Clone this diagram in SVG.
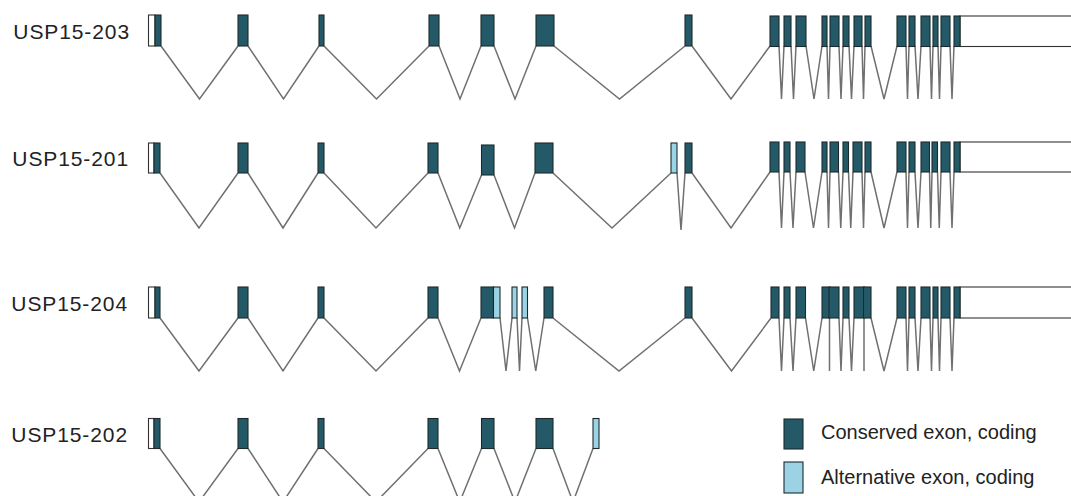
<svg xmlns="http://www.w3.org/2000/svg" width="1071" height="496" viewBox="0 0 1071 496">
  <style>
    .label { font-family: "Liberation Sans", Arial, sans-serif; font-size: 21px; letter-spacing: 0.9px; fill: #222; }
    .legend { font-family: "Liberation Sans", Arial, sans-serif; font-size: 20px; fill: #222; }
    .ex { fill: #245a68; stroke: #1c2a2e; stroke-width: 1.1; }
    .alt { fill: #9cd3e4; stroke: #1c2a2e; stroke-width: 1.1; }
    .utr { fill: #ffffff; stroke: #333333; stroke-width: 1.1; }
    .intron { fill: none; stroke: #707070; stroke-width: 1.5; stroke-linejoin: miter; }
  </style>
  <rect width="1071" height="496" fill="#ffffff"/>

  <!-- intron connectors (drawn under the exons) -->
  <g id="connectors">
    <path class="intron" d="M161 46L199.5 99L238 46M248 46L283.5 99L319 46M324 46L376.5 99L429 46M439 46L460 99L481 46M494 46L515 99L536 46M554 46L619.5 99L685 46M692 46L731 99L770 46M779 46L781.5 99L784 46M791 46L793.5 99L796 46M806 46L814 99L822 46M827 46L828.5 99L830 46M839 46L841 99L843 46M849 46L851.5 99L854 46M862 46L863.5 99L865 46M871 46L884 99L897 46M906 46L907.5 99L909 46M915 46L918 99L921 46M930 46L931.5 99L933 46M938 46L939.5 99L941 46M950 46L952 99L954 46"/>
    <path class="intron" d="M160 173L199 228L238 173M248 173L283 228L318 173M324 173L376 228L428 173M438 173L459.75 228L481.5 175M494 175L514.5 228L535 173M553 173L612 228L671 173M677 173L681 230L685 173M692 173L731 228L770 172M779 172L781.5 228L784 172M790 172L793 228L796 172M805 172L813.5 228L822 172M827 172L828.5 228L830 172M838.5 172L840.75 228L843 172M848.5 172L850.75 228L853 172M862 172L863.5 228L865 172M871 172L884 228L897 172M906 172L907.5 228L909 172M915 172L918 228L921 172M929.5 172L930.75 228L932 172M937.5 172L939.25 228L941 172M950 172L952 228L954 172"/>
    <path class="intron" d="M160 318L199 371L238 318M248 318L283 371L318 318M324 318L376 371L428 318M438 318L459.5 371L481 318M500 318L506 371L512 318M517 318L519.5 371L522 318M527.5 318L535.75 371L544 318M553 318L619 371L685 318M692 318L731.5 371L771 318M779 318L781.5 371L784 318M790 318L793 371L796 318M805.5 318L813.75 371L822 318M829.5 318L829.5 371M839 318L841 371L843 318M849 318L851.5 371L854 318M864 318L864 371M871 318L884 371L897 318M906 318L907.5 371L909 318M915 318L918 371L921 318M930 318L931.5 371L933 318M938 318L939.5 371L941 318M950 318L952 371L954 318"/>
    <path class="intron" d="M160 448.5L199 502L238 448.5M248 448.5L283 502L318 448.5M324 448.5L376 502L428 448.5M438 448.5L459.75 502L481.5 448.5M494 448.5L515 502L536 448.5M553 448.5L573 502L593 448.5"/>
  </g>

  <!-- transcript USP15-203 -->
  <g id="USP15-203">
    <text class="label" x="130" y="38.5" text-anchor="end">USP15-203</text>
    <rect class="utr" x="148.5" y="15" width="6.5" height="31"/>
    <rect class="utr" x="960" y="16" width="130" height="30.5"/>
    <rect class="ex" x="155" y="15" width="6" height="31"/>
    <rect class="ex" x="238" y="15" width="10" height="31"/>
    <rect class="ex" x="319" y="15" width="5" height="31"/>
    <rect class="ex" x="429" y="15" width="10" height="31"/>
    <rect class="ex" x="481" y="15" width="13" height="31"/>
    <rect class="ex" x="536" y="15" width="18" height="31"/>
    <rect class="ex" x="685" y="15" width="7" height="31"/>
    <rect class="ex" x="770" y="16" width="9" height="30.5"/>
    <rect class="ex" x="784" y="16" width="7" height="30.5"/>
    <rect class="ex" x="796" y="16" width="10" height="30.5"/>
    <rect class="ex" x="822" y="16" width="5" height="30.5"/>
    <rect class="ex" x="830" y="16" width="9" height="30.5"/>
    <rect class="ex" x="843" y="16" width="6" height="30.5"/>
    <rect class="ex" x="854" y="16" width="8" height="30.5"/>
    <rect class="ex" x="865" y="16" width="6" height="30.5"/>
    <rect class="ex" x="897" y="16" width="9" height="30.5"/>
    <rect class="ex" x="909" y="16" width="6" height="30.5"/>
    <rect class="ex" x="921" y="16" width="9" height="30.5"/>
    <rect class="ex" x="933" y="16" width="5" height="30.5"/>
    <rect class="ex" x="941" y="16" width="9" height="30.5"/>
    <rect class="ex" x="954" y="16" width="6" height="30.5"/>
  </g>

  <!-- transcript USP15-201 -->
  <g id="USP15-201">
    <text class="label" x="129" y="165.5" text-anchor="end">USP15-201</text>
    <rect class="utr" x="148.5" y="143" width="5.5" height="30"/>
    <rect class="utr" x="960" y="142" width="130" height="30"/>
    <rect class="ex" x="154" y="143" width="6" height="30"/>
    <rect class="ex" x="238" y="143" width="10" height="30"/>
    <rect class="ex" x="318" y="143" width="6" height="30"/>
    <rect class="ex" x="428" y="143" width="10" height="30"/>
    <rect class="ex" x="481.5" y="145" width="12.5" height="30"/>
    <rect class="ex" x="535" y="143" width="18" height="30"/>
    <rect class="alt" x="671" y="143" width="6" height="30"/>
    <rect class="ex" x="685" y="143" width="7" height="30"/>
    <rect class="ex" x="770" y="142" width="9" height="30"/>
    <rect class="ex" x="784" y="142" width="6" height="30"/>
    <rect class="ex" x="796" y="142" width="9" height="30"/>
    <rect class="ex" x="822" y="142" width="5" height="30"/>
    <rect class="ex" x="830" y="142" width="8.5" height="30"/>
    <rect class="ex" x="843" y="142" width="5.5" height="30"/>
    <rect class="ex" x="853" y="142" width="9" height="30"/>
    <rect class="ex" x="865" y="142" width="6" height="30"/>
    <rect class="ex" x="897" y="142" width="9" height="30"/>
    <rect class="ex" x="909" y="142" width="6" height="30"/>
    <rect class="ex" x="921" y="142" width="8.5" height="30"/>
    <rect class="ex" x="932" y="142" width="5.5" height="30"/>
    <rect class="ex" x="941" y="142" width="9" height="30"/>
    <rect class="ex" x="954" y="142" width="6" height="30"/>
  </g>

  <!-- transcript USP15-204 -->
  <g id="USP15-204">
    <text class="label" x="128" y="311" text-anchor="end">USP15-204</text>
    <rect class="utr" x="148.5" y="287" width="6.5" height="31"/>
    <rect class="utr" x="960" y="287" width="130" height="31"/>
    <rect class="ex" x="155" y="287" width="5" height="31"/>
    <rect class="ex" x="238" y="287" width="10" height="31"/>
    <rect class="ex" x="318" y="287" width="6" height="31"/>
    <rect class="ex" x="428" y="287" width="10" height="31"/>
    <rect class="ex" x="481" y="287" width="12.5" height="31"/>
    <rect class="alt" x="493.5" y="287" width="6.5" height="31"/>
    <rect class="alt" x="512" y="287" width="5" height="31"/>
    <rect class="alt" x="522" y="287" width="5.5" height="31"/>
    <rect class="ex" x="544" y="287" width="9" height="31"/>
    <rect class="ex" x="685" y="287" width="7" height="31"/>
    <rect class="ex" x="771" y="287" width="8" height="31"/>
    <rect class="ex" x="784" y="287" width="6" height="31"/>
    <rect class="ex" x="796" y="287" width="9.5" height="31"/>
    <rect class="ex" x="822" y="287" width="8" height="31"/>
    <rect class="ex" x="829" y="287" width="10" height="31"/>
    <rect class="ex" x="843" y="287" width="6" height="31"/>
    <rect class="ex" x="854" y="287" width="10.5" height="31"/>
    <rect class="ex" x="863.5" y="287" width="7.5" height="31"/>
    <rect class="ex" x="897" y="287" width="9" height="31"/>
    <rect class="ex" x="909" y="287" width="6" height="31"/>
    <rect class="ex" x="921" y="287" width="9" height="31"/>
    <rect class="ex" x="933" y="287" width="5" height="31"/>
    <rect class="ex" x="941" y="287" width="9" height="31"/>
    <rect class="ex" x="954" y="287" width="6" height="31"/>
  </g>

  <!-- transcript USP15-202 -->
  <g id="USP15-202">
    <text class="label" x="128" y="442" text-anchor="end">USP15-202</text>
    <rect class="utr" x="148.5" y="418.5" width="5.5" height="30"/>
    <rect class="ex" x="154" y="418.5" width="6" height="30"/>
    <rect class="ex" x="238" y="418.5" width="10" height="30"/>
    <rect class="ex" x="318" y="418.5" width="6" height="30"/>
    <rect class="ex" x="428" y="418.5" width="10" height="30"/>
    <rect class="ex" x="481.5" y="418.5" width="12.5" height="30"/>
    <rect class="ex" x="536" y="418.5" width="17" height="30"/>
    <rect class="alt" x="593" y="418.5" width="6" height="30"/>
  </g>

  <!-- legend -->
  <g id="legend">
    <rect class="ex" x="784" y="419" width="19" height="30"/>
    <text class="legend" x="821" y="439">Conserved exon, coding</text>
    <rect class="alt" x="784" y="462" width="19" height="31"/>
    <text class="legend" x="821" y="484">Alternative exon, coding</text>
  </g>
</svg>
